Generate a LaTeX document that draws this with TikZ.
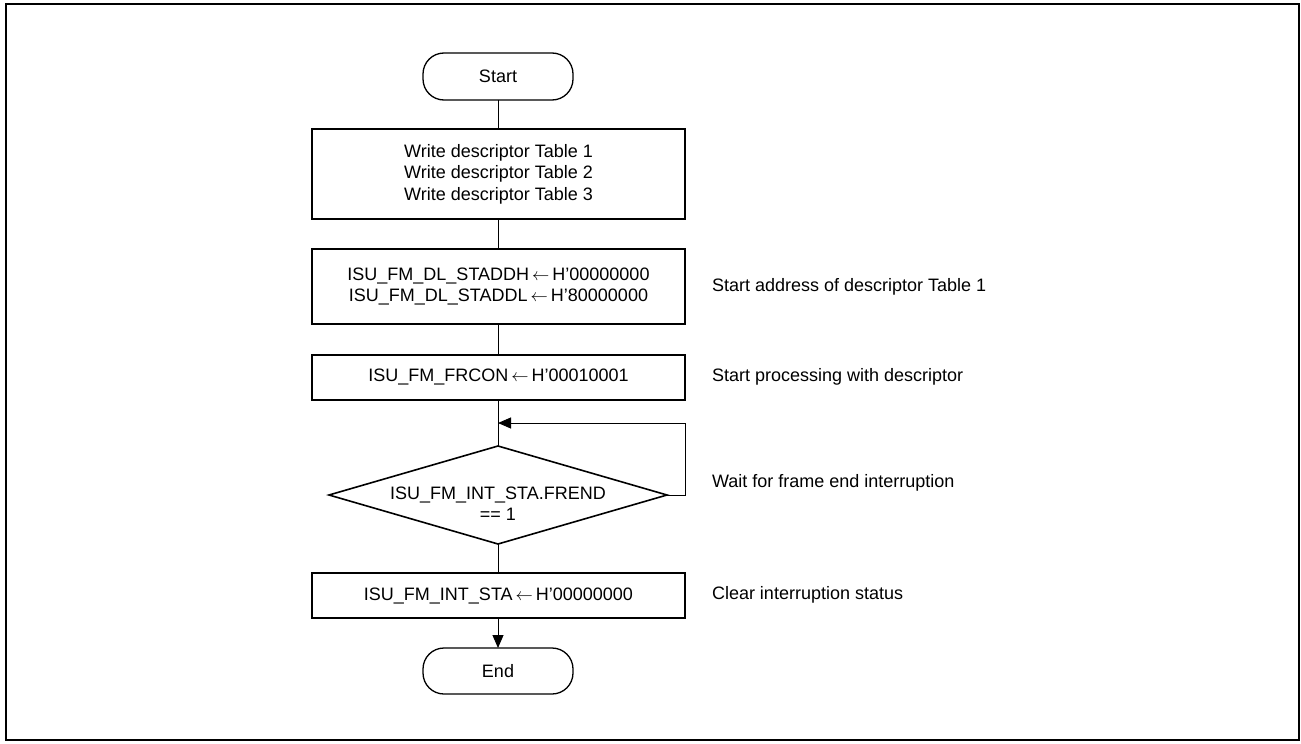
\documentclass[tikz,border=0pt]{standalone}
\usepackage{fontspec}
\setmainfont{Liberation Sans}
\usetikzlibrary{shapes.geometric,arrows.meta}
\newcommand{\asg}{\,$\leftarrow$\,}
\begin{document}
\begin{tikzpicture}[x=1pt,y=-1pt,
  every node/.style={font=\fontsize{18pt}{21.5pt}\selectfont, align=center, inner sep=0pt, outer sep=0pt},
  procbox/.style={draw, line width=1.6pt, minimum width=373pt},
  termbox/.style={draw, line width=1.3pt, rounded corners=21pt, minimum width=150pt},
  decbox/.style={draw, line width=1.6pt, diamond, minimum width=338pt, minimum height=98pt},
  note/.style={anchor=west, align=left},
  conn/.style={line width=1pt},
  arr/.style={line width=1pt, -{Triangle[length=13pt,width=11pt]}}
]
\useasboundingbox (0,0) rectangle (1301,744);
\draw[line width=2pt] (6,4) rectangle (1299,740);

\node[termbox, minimum height=47pt] (start) at (498,76.5) {Start};
\node[procbox, minimum height=90pt] (b1) at (498.5,174) {Write descriptor Table 1\\Write descriptor Table 2\\Write descriptor Table 3};
\node[procbox, minimum height=75pt] (b2) at (498.5,286.5) {ISU\_FM\_DL\_STADDH\asg H’00000000\\ISU\_FM\_DL\_STADDL\asg H’80000000};
\node[procbox, minimum height=45pt] (b3) at (498.5,377.5) {ISU\_FM\_FRCON\asg H’00010001};
\node[decbox] (dec) at (498,495) {};
\node (dectxt) at (498,503.5) {ISU\_FM\_INT\_STA.FREND\\== 1};
\node[procbox, minimum height=45pt] (b4) at (498.5,595.5) {ISU\_FM\_INT\_STA\asg H’00000000};
\node[termbox, minimum height=46pt] (end) at (498,671) {End};

\coordinate (loopin) at (498,423);
\coordinate (loopr) at (685,423);

\draw[conn] (start.south) -- (start.south |- b1.north);
\draw[conn] (b1.south -| start.south) -- (b2.north -| start.south);
\draw[conn] (b2.south -| start.south) -- (b3.north -| start.south);
\draw[conn] (b3.south -| start.south) -- (dec.north);
\draw[conn] (dec.south) -- (dec.south |- b4.north);
\draw[arr] (b4.south -| end.north) -- (end.north);
\draw[arr] (dec.east) -| (loopr) -- (loopin);

\node[note] (n2) at (712,287) {Start address of descriptor Table 1};
\node[note] (n3) at (712,377) {Start processing with descriptor};
\node[note] (n4) at (712,483) {Wait for frame end interruption};
\node[note] (n5) at (712,595) {Clear interruption status};
\end{tikzpicture}
\end{document}
